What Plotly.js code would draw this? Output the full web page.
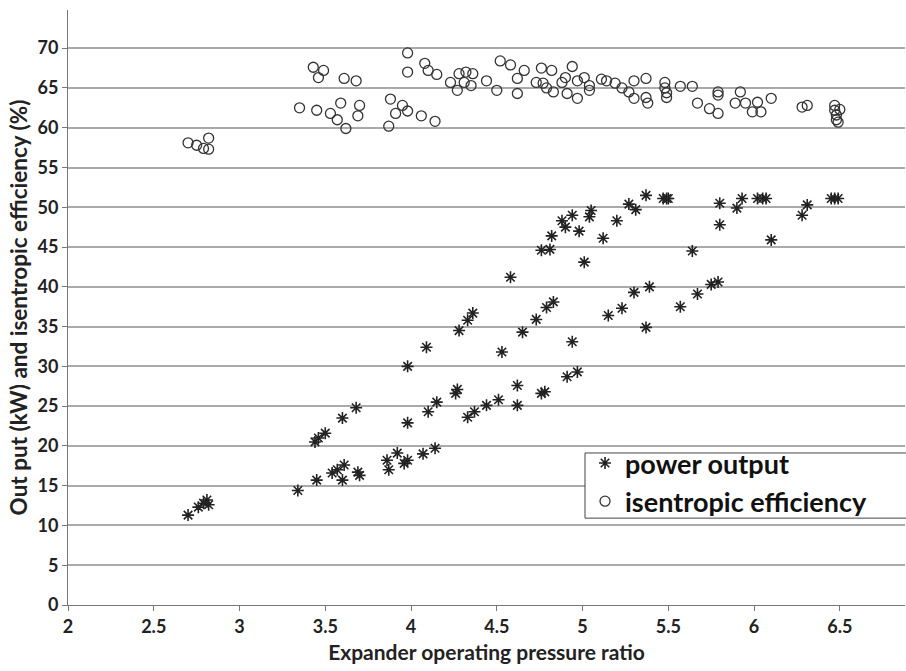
<!DOCTYPE html>
<html>
<head>
<meta charset="utf-8">
<script src="https://cdn.plot.ly/plotly-3.0.1.min.js"></script>
<style>html,body{margin:0;padding:0;background:#fff;}#chart{width:906px;height:671px;}</style>
</head>
<body>
<div id="chart"></div>
<script>
// Isentropic efficiency (%) vs pressure ratio
const effX = [2.70,2.75,2.79,2.82,2.82,3.35,3.43,3.49,3.46,3.45,3.53,3.57,3.59,3.61,3.62,3.68,3.69,3.70,3.87,3.88,3.91,3.95,3.98,3.98,3.98,4.06,4.08,4.10,4.14,4.15,4.23,4.28,4.32,4.36,4.27,4.31,4.35,4.44,4.50,4.52,4.58,4.62,4.62,4.66,4.73,4.76,4.77,4.79,4.82,4.83,4.88,4.90,4.91,4.94,4.97,4.97,5.01,5.04,5.04,5.11,5.14,5.19,5.23,5.27,5.30,5.30,5.37,5.37,5.38,5.48,5.48,5.49,5.49,5.57,5.64,5.67,5.74,5.79,5.79,5.79,5.89,5.92,5.95,5.99,6.02,6.04,6.10,6.28,6.31,6.47,6.47,6.48,6.48,6.49,6.50];
const effY = [58.1,57.8,57.4,57.3,58.7,62.5,67.6,67.2,66.3,62.2,61.8,61.0,63.1,66.2,59.9,65.9,61.5,62.8,60.2,63.6,61.8,62.8,62.1,69.4,67.0,61.5,68.1,67.2,60.8,66.7,65.7,66.8,67.0,66.8,64.7,65.7,65.3,65.9,64.7,68.4,67.9,64.3,66.2,67.2,65.7,67.5,65.6,65.0,67.2,64.5,65.7,66.3,64.3,67.7,65.9,63.7,66.3,65.3,64.7,66.1,65.9,65.6,65.0,64.5,65.9,63.7,66.2,63.8,63.1,65.7,65.0,64.4,63.8,65.2,65.2,63.1,62.4,61.8,64.5,64.1,63.1,64.5,63.1,62.0,63.2,62.0,63.7,62.6,62.8,62.8,62.2,61.6,61.0,60.7,62.3];
// Power output (kW) vs pressure ratio
const powX = [2.70,2.76,2.79,2.81,2.82,3.34,3.45,3.54,3.57,3.60,3.61,3.69,3.70,3.44,3.46,3.50,3.60,3.68,3.86,3.87,3.92,3.96,3.98,4.07,4.14,3.98,4.10,4.15,4.26,4.27,4.33,4.37,4.44,4.51,4.62,4.62,4.76,4.78,4.91,4.97,3.98,4.09,4.28,4.33,4.36,4.53,4.65,4.73,4.79,4.83,4.94,5.15,5.23,5.30,5.39,5.37,5.57,5.67,5.75,5.79,4.58,4.76,4.81,4.82,4.88,4.90,4.94,4.98,5.01,5.04,5.05,5.12,5.20,5.27,5.31,5.37,5.47,5.49,5.50,5.64,5.80,5.80,5.90,5.93,6.02,6.05,6.07,6.10,6.28,6.31,6.45,6.47,6.49];
const powY = [11.3,12.3,12.8,13.2,12.6,14.4,15.7,16.6,17.0,15.7,17.6,16.7,16.3,20.5,21.0,21.6,23.5,24.8,18.2,17.0,19.1,17.8,18.2,19.0,19.7,22.9,24.3,25.5,26.6,27.1,23.6,24.3,25.1,25.8,25.1,27.6,26.6,26.8,28.7,29.3,30.0,32.4,34.5,35.8,36.7,31.8,34.3,35.9,37.4,38.1,33.1,36.4,37.3,39.3,40.0,34.9,37.5,39.1,40.3,40.6,41.2,44.6,44.7,46.4,48.3,47.5,49.0,47.0,43.1,48.8,49.6,46.1,48.3,50.4,49.7,51.5,51.1,51.1,51.1,44.5,47.8,50.5,49.9,51.1,51.1,51.1,51.1,45.9,49.0,50.3,51.1,51.1,51.1];

const xTicks = [2,2.5,3,3.5,4,4.5,5,5.5,6,6.5];
const xTickText = ['2','2.5','3','3.5','4','4.5','5','5.5','6','6.5'];
const yTicks = [0,5,10,15,20,25,30,35,40,45,50,55,60,65,70];
const seriesNames = ['power output','isentropic efficiency'];
const xTitle = 'Expander operating pressure ratio';
const yTitle = 'Out put (kW) and isentropic efficiency (%)';

const FONT = 'Lato, "Open Sans", sans-serif';

const traces = [
  {x: powX, y: powY, name: seriesNames[0], type: 'scatter', mode: 'markers',
   marker: {symbol: 'asterisk-open', size: 10, color: '#222', line: {color: '#222', width: 1.6}}},
  {x: effX, y: effY, name: seriesNames[1], type: 'scatter', mode: 'markers',
   marker: {symbol: 'circle-open', size: 10, color: '#333', line: {color: '#333', width: 1.3}}}
];

const layout = {
  width: 906, height: 671,
  margin: {l: 68, r: 1, t: 10, b: 66},
  paper_bgcolor: '#fff', plot_bgcolor: '#fff',
  font: {family: FONT, color: '#222'},
  showlegend: true,
  legend: {x: 0.6177, y: 0.279, xanchor: 'left', yanchor: 'top',
    borderwidth: 0, bgcolor: 'rgba(0,0,0,0)',
    font: {family: FONT, size: 27, color: '#111', weight: 'bold'}, tracegroupgap: 0},
  shapes: [{type: 'rect', xref: 'paper', yref: 'paper', x0: 0.6177, x1: 1.02, y0: 0.146, y1: 0.2555,
    fillcolor: '#fff', line: {color: '#444', width: 1}, layer: 'above'}],
  xaxis: {range: [2, 6.88], tickvals: xTicks, ticktext: xTickText,
    showgrid: false, zeroline: false, showline: true, linecolor: '#777', linewidth: 1,
    ticks: 'outside', ticklen: 5, tickcolor: '#777',
    tickfont: {family: FONT, size: 18, color: '#222', weight: 'bold'},
    title: {text: xTitle, font: {family: FONT, size: 21, color: '#222', weight: 'bold'}, standoff: 9}},
  yaxis: {range: [0, 74.8], tickvals: yTicks,
    showgrid: true, gridcolor: '#aaa', gridwidth: 2, zeroline: false,
    showline: true, linecolor: '#777', linewidth: 1,
    ticks: 'outside', ticklen: 5, tickcolor: '#777',
    tickfont: {family: FONT, size: 18, color: '#222', weight: 'bold'},
    title: {text: yTitle, font: {family: FONT, size: 22.5, color: '#222', weight: 'bold'}, standoff: 3}}
};

Plotly.newPlot('chart', traces, layout, {displayModeBar: false, staticPlot: true});
</script>
</body>
</html>
